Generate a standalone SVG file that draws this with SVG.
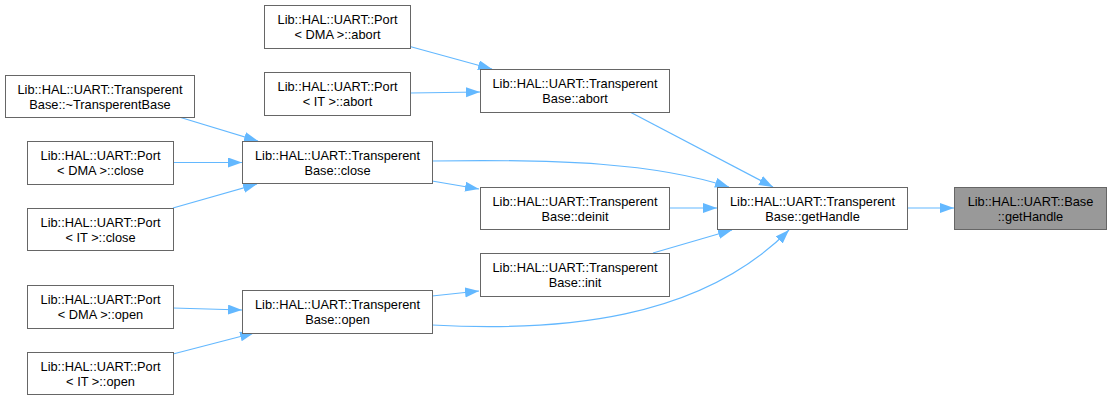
<svg xmlns="http://www.w3.org/2000/svg" width="1111" height="400" viewBox="0 0 1111 400">
<style>
.box{fill:#ffffff;stroke:#666666;stroke-width:1}
.sel{fill:#999999;stroke:#666666;stroke-width:1}
.t{font-family:"Liberation Sans",Arial,sans-serif;font-size:12.8px;fill:#000000;text-anchor:middle}
.e{fill:none;stroke:#63b8ff;stroke-width:1.2;marker-end:url(#ah)}
</style>
<defs>
<marker id="ah" markerUnits="userSpaceOnUse" markerWidth="15" markerHeight="11" refX="14" refY="5" orient="auto">
<path d="M0,0 L14,5 L0,10 z" fill="#63b8ff"/>
</marker>
</defs>
<rect width="1111" height="400" fill="#ffffff"/>
<g id="edges">
<path class="e" d="M410,46.5 L492,69"/>
<path class="e" d="M410,93 L480,92"/>
<path class="e" d="M179,117 L258,141"/>
<path class="e" d="M173,162.5 L242,162.5"/>
<path class="e" d="M173,208 L257,184"/>
<path class="e" d="M432,161 C560,159 655,163 729,187"/>
<path class="e" d="M432,181 L479,189"/>
<path class="e" d="M630,112 L773,187"/>
<path class="e" d="M669,208 L717,208"/>
<path class="e" d="M653,253 L732,230"/>
<path class="e" d="M432,296 L479,291"/>
<path class="e" d="M432,325 C560,332 700,320 789,230"/>
<path class="e" d="M173,308 L242,310"/>
<path class="e" d="M173,354 L254,333"/>
<path class="e" d="M907,208 L954,208"/>
</g>
<g id="port_dma_abort"><rect class="box" x="264.5" y="5.5" width="146" height="43"/><text class="t" x="337.5" y="23.5">Lib::HAL::UART::Port</text><text class="t" x="337.5" y="39">&lt; DMA &gt;::abort</text></g>
<g id="port_it_abort"><rect class="box" x="264.5" y="72.5" width="146" height="43"/><text class="t" x="337.5" y="90.5">Lib::HAL::UART::Port</text><text class="t" x="337.5" y="106">&lt; IT &gt;::abort</text></g>
<g id="tb_dtor"><rect class="box" x="5.5" y="75.5" width="189" height="42"/><text class="t" x="100" y="93.5">Lib::HAL::UART::Transperent</text><text class="t" x="100" y="109">Base::~TransperentBase</text></g>
<g id="port_dma_close"><rect class="box" x="27.5" y="141.5" width="146" height="43"/><text class="t" x="100.5" y="159.5">Lib::HAL::UART::Port</text><text class="t" x="100.5" y="175">&lt; DMA &gt;::close</text></g>
<g id="port_it_close"><rect class="box" x="27.5" y="208.5" width="146" height="42"/><text class="t" x="100.5" y="226.5">Lib::HAL::UART::Port</text><text class="t" x="100.5" y="242">&lt; IT &gt;::close</text></g>
<g id="port_dma_open"><rect class="box" x="27.5" y="285.5" width="146" height="43"/><text class="t" x="100.5" y="303.5">Lib::HAL::UART::Port</text><text class="t" x="100.5" y="319">&lt; DMA &gt;::open</text></g>
<g id="port_it_open"><rect class="box" x="27.5" y="352.5" width="146" height="42"/><text class="t" x="100.5" y="370.5">Lib::HAL::UART::Port</text><text class="t" x="100.5" y="386">&lt; IT &gt;::open</text></g>
<g id="tb_close"><rect class="box" x="242.5" y="141.5" width="190" height="42"/><text class="t" x="337.5" y="159.5">Lib::HAL::UART::Transperent</text><text class="t" x="337.5" y="175">Base::close</text></g>
<g id="tb_open"><rect class="box" x="242.5" y="290.5" width="190" height="43"/><text class="t" x="337.5" y="308.5">Lib::HAL::UART::Transperent</text><text class="t" x="337.5" y="324">Base::open</text></g>
<g id="tb_abort"><rect class="box" x="480.5" y="69.5" width="189" height="43"/><text class="t" x="575" y="87.5">Lib::HAL::UART::Transperent</text><text class="t" x="575" y="103">Base::abort</text></g>
<g id="tb_deinit"><rect class="box" x="480.5" y="187.5" width="189" height="42"/><text class="t" x="575" y="205.5">Lib::HAL::UART::Transperent</text><text class="t" x="575" y="221">Base::deinit</text></g>
<g id="tb_init"><rect class="box" x="480.5" y="253.5" width="189" height="43"/><text class="t" x="575" y="271.5">Lib::HAL::UART::Transperent</text><text class="t" x="575" y="287">Base::init</text></g>
<g id="tb_gethandle"><rect class="box" x="717.5" y="187.5" width="190" height="42"/><text class="t" x="812.5" y="205.5">Lib::HAL::UART::Transperent</text><text class="t" x="812.5" y="221">Base::getHandle</text></g>
<g id="base_gethandle"><rect class="sel" x="954.5" y="187.5" width="152" height="42"/><text class="t" x="1030.5" y="205.5">Lib::HAL::UART::Base</text><text class="t" x="1030.5" y="221">::getHandle</text></g>
</svg>
